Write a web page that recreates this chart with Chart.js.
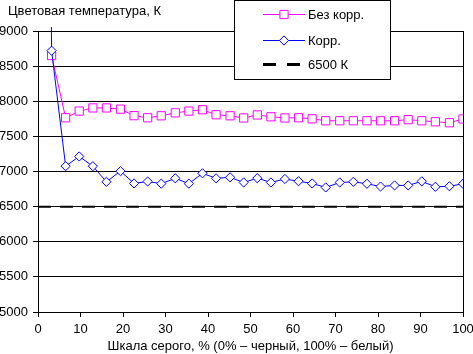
<!DOCTYPE html>
<html>
<head>
<meta charset="utf-8">
<script src="https://cdn.jsdelivr.net/npm/chart.js@4/dist/chart.umd.min.js"></script>
<style>
  html, body { margin: 0; padding: 0; background: #fff; }
  #wrap { width: 473px; height: 354px; }
</style>
</head>
<body>
<div id="wrap"><canvas id="tempChart" width="473" height="354"></canvas></div>
<script>
// grey levels, % (31 steps, black omitted)
const grayPct = [3.2, 6.5, 9.7, 12.9, 16.1, 19.4, 22.6, 25.8, 29.0, 32.3, 35.5, 38.7, 41.9, 45.2, 48.4,
  51.6, 54.8, 58.1, 61.3, 64.5, 67.7, 71.0, 74.2, 77.4, 80.6, 83.9, 87.1, 90.3, 93.5, 96.8, 100];
const noCorr = [8650, 7765, 7860, 7905, 7905, 7888, 7795, 7765, 7793, 7835, 7860, 7879, 7808, 7793, 7762,
  7805, 7779, 7762, 7765, 7750, 7722, 7722, 7722, 7722, 7722, 7722, 7738, 7722, 7708, 7694, 7748];
const corr = [8720, 7076, 7214, 7076, 6853, 7005, 6830, 6858, 6827, 6903, 6827, 6974, 6903, 6917, 6844,
  6905, 6844, 6893, 6862, 6830, 6773, 6844, 6853, 6825, 6786, 6802, 6802, 6860, 6782, 6790, 6825];
const corrAtBlack = 30000; // off the scale, line leaves through the top
const targetK = 6500;
const xTicks = [0, 10, 20, 30, 40, 50, 60, 70, 80, 90, 100];
const yTicks = [5000, 5500, 6000, 6500, 7000, 7500, 8000, 8500, 9000];
const seriesNames = ['Без корр.', 'Корр.', '6500 К'];

Chart.defaults.font.family = '"Liberation Sans", Arial, sans-serif';
Chart.defaults.font.size = 13;
Chart.defaults.color = '#000';

const SQUARE_R = 5.8;
const DIAMOND_R = 4.6;

const toPoints = (xs, ys) => xs.map((x, i) => ({ x: x, y: ys[i] }));

const axisTitle = {
  id: 'axisTitle',
  afterDraw(chart) {
    const ctx = chart.ctx;
    ctx.save();
    ctx.font = '13px "Liberation Sans", Arial, sans-serif';
    ctx.fillStyle = '#000';
    ctx.textBaseline = 'alphabetic';
    ctx.fillText('Цветовая температура, К', 8, 15);
    ctx.restore();
  }
};

// framed legend sitting over the plot, like the original
const boxLegend = {
  id: 'boxLegend',
  afterDraw(chart) {
    const ctx = chart.ctx;
    const rows = [14, 40, 64];
    const marks = [
      { style: 'rect', r: SQUARE_R },
      { style: 'rectRot', r: DIAMOND_R },
      null
    ];
    ctx.save();
    ctx.fillStyle = '#fff';
    ctx.strokeStyle = '#000';
    ctx.lineWidth = 1;
    ctx.fillRect(234.5, 0.5, 156, 79);
    ctx.strokeRect(234.5, 0.5, 156, 79);
    chart.data.datasets.forEach((ds, i) => {
      const y = rows[i];
      ctx.save();
      ctx.strokeStyle = ds.borderColor;
      ctx.lineWidth = ds.borderDash ? 3 : ds.borderWidth;
      if (ds.borderDash) ctx.setLineDash([13, 11]);
      ctx.beginPath();
      ctx.moveTo(263, y + 0.5);
      ctx.lineTo(ds.borderDash ? 300 : 305, y + 0.5);
      ctx.stroke();
      ctx.restore();
      if (marks[i]) {
        ctx.fillStyle = '#fff';
        ctx.strokeStyle = ds.borderColor;
        ctx.lineWidth = 1;
        Chart.helpers.drawPoint(ctx, {
          pointStyle: marks[i].style, radius: marks[i].r, rotation: 0, borderWidth: 1
        }, 284, y + 0.5);
      }
      ctx.fillStyle = '#000';
      ctx.font = '13px "Liberation Sans", Arial, sans-serif';
      ctx.textBaseline = 'alphabetic';
      ctx.fillText(ds.label, 308, y + 4.5);
    });
    ctx.restore();
  }
};

new Chart(document.getElementById('tempChart'), {
  type: 'line',
  data: {
    datasets: [
      {
        label: seriesNames[0],
        data: toPoints(grayPct, noCorr),
        borderColor: '#FF00FF',
        borderWidth: 1,
        pointStyle: 'rect',
        pointRadius: SQUARE_R,
        pointBackgroundColor: '#fff',
        pointBorderColor: '#FF00FF',
        pointBorderWidth: 1,
        order: 1
      }, {
        label: seriesNames[1],
        data: [{ x: 0, y: corrAtBlack }].concat(toPoints(grayPct, corr)),
        borderColor: '#0000FF',
        borderWidth: 1,
        pointStyle: 'rectRot',
        pointRadius: (c) => c.dataIndex === 0 ? 0 : DIAMOND_R,
        pointBackgroundColor: '#fff',
        pointBorderColor: '#0000FF',
        pointBorderWidth: 1,
        clip: { left: 0, top: 4, right: 0, bottom: 0 },
        order: 0
      }, {
        label: seriesNames[2],
        data: [{ x: 0, y: targetK }, { x: 100, y: targetK }],
        borderColor: '#000',
        borderWidth: 2,
        borderDash: [13, 9],
        pointRadius: 0,
        order: 2
      }
    ]
  },
  options: {
    responsive: false,
    animation: false,
    layout: { padding: { top: 31, right: 10, left: 0, bottom: 0 } },
    plugins: { legend: { display: false }, tooltip: { enabled: false } },
    elements: { line: { tension: 0 } },
    scales: {
      x: {
        type: 'linear',
        min: 0,
        max: 100,
        afterBuildTicks: (s) => { s.ticks = xTicks.map(v => ({ value: v })); },
        afterFit: (s) => { s.height = 42; s.paddingLeft = 0; s.paddingRight = 0; },
        ticks: { padding: 5, maxRotation: 0, autoSkip: false, callback: (v) => String(v) },
        grid: {
          color: (c) => c.tick && c.tick.value === 100 ? '#000' : 'rgba(0,0,0,0)',
          tickColor: '#000',
          tickLength: 5,
          lineWidth: 1
        },
        border: { display: true, color: '#000', width: 1 },
        title: {
          display: true,
          text: 'Шкала серого, % (0% – черный, 100% – белый)',
          font: { size: 13 },
          padding: { top: 0, bottom: 0 }
        }
      },
      y: {
        min: 5000,
        max: 9000,
        afterBuildTicks: (s) => { s.ticks = yTicks.map(v => ({ value: v })); },
        afterFit: (s) => { s.width = 38; },
        ticks: { padding: 5, callback: (v) => String(v) },
        grid: { color: '#000', tickColor: '#000', tickLength: 5, lineWidth: 1 },
        border: { display: true, color: '#000', width: 1 }
      }
    }
  },
  plugins: [axisTitle, boxLegend]
});
</script>
</body>
</html>
